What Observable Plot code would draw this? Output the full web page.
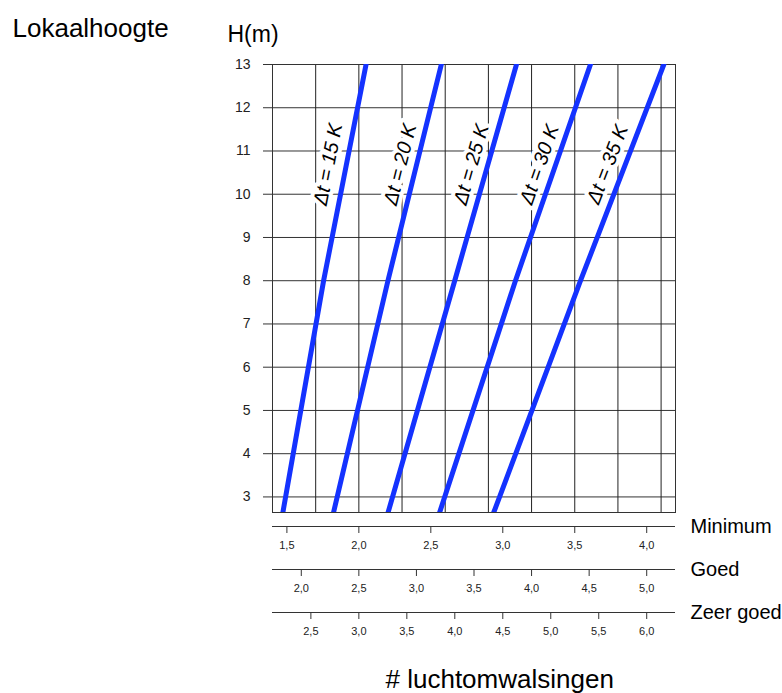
<!DOCTYPE html>
<html><head><meta charset="utf-8">
<script src="https://cdn.jsdelivr.net/npm/d3@7"></script>
<script src="https://cdn.jsdelivr.net/npm/@observablehq/plot@0.6"></script>
<style>
body{margin:0;background:#fff;}
#chart svg{display:block;}
</style>
</head><body><div id="chart"></div>
<script>
// Heights (m) at which each curve is read
const heights = [2.64, 8, 13];
// "Minimum" air changes per hour for each Δt curve, one value per height
const dt15 = [1.472, 1.755, 2.050];
const dt20 = [1.824, 2.202, 2.573];
const dt25 = [2.203, 2.666, 3.095];
const dt30 = [2.561, 3.088, 3.609];
const dt35 = [2.937, 3.540, 4.119];
const seriesNames = ["Δt = 15 K", "Δt = 20 K", "Δt = 25 K", "Δt = 30 K", "Δt = 35 K"];
const seriesValues = [dt15, dt20, dt25, dt30, dt35];
// label anchor positions (Minimum units, height) and angles
const labelX = [1.787, 2.288, 2.782, 3.255, 3.728];
const labelH = [10.69, 10.69, 10.69, 10.69, 10.69];
const labelAngle = [-79, -76, -74, -71, -69];
// grid + axes
const xDomain = [1.4, 4.2];
const yDomain = [2.64, 13];
const gridX = [1.7, 2.0, 2.3, 2.6, 2.9, 3.2, 3.5, 3.8, 4.1];
const heightTicks = [3, 4, 5, 6, 7, 8, 9, 10, 11, 12, 13];
const minimumTicks = [1.5, 2.0, 2.5, 3.0, 3.5, 4.0];
const goedTicks = [2.0, 2.5, 3.0, 3.5, 4.0, 4.5, 5.0];
const zeerGoedTicks = [2.5, 3.0, 3.5, 4.0, 4.5, 5.0, 5.5, 6.0];
const scaleNames = ["Minimum", "Goed", "Zeer goed"];
const scaleFactors = [1, 1.25, 1.5];
const scaleTicks = [minimumTicks, goedTicks, zeerGoedTicks];

const rows = seriesNames.flatMap((s, i) => heights.map((h, j) => ({series: s, h, x: seriesValues[i][j]})));
const labels = seriesNames.map((s, i) => ({text: s, x: labelX[i], h: labelH[i], a: labelAngle[i]}));

const fmt = v => v.toFixed(1).replace(".", ",");
const axisOffsets = [14, 57, 100];

const scaleMarks = scaleNames.flatMap((name, i) => [
  Plot.ruleY([yDomain[0]], {dy: axisOffsets[i], stroke: "#333", strokeWidth: 1}),
  Plot.axisX({
    ticks: scaleTicks[i].map(v => v / scaleFactors[i]),
    tickFormat: d => fmt(d * scaleFactors[i]),
    anchor: "bottom", dy: axisOffsets[i], tickSize: 7, tickPadding: 8,
    fontSize: 11, label: null, stroke: "#333", fill: "#222"
  }),
  Plot.text([name], {frameAnchor: "bottom-right", dx: 15, dy: axisOffsets[i], textAnchor: "start", lineAnchor: "middle", fontSize: 20, fill: "#000"})
]);

const chart = Plot.plot({
  width: 782,
  height: 693,
  marginLeft: 272,
  marginRight: 107,
  marginTop: 64,
  marginBottom: 181,
  style: {fontFamily: "'Liberation Sans', Arial, sans-serif", color: "#222", background: "#fff"},
  x: {domain: xDomain},
  y: {domain: yDomain},
  marks: [
    Plot.gridY(heightTicks, {stroke: "#333", strokeOpacity: 1, strokeWidth: 1}),
    Plot.ruleX(gridX, {stroke: "#222", strokeWidth: 1}),
    Plot.axisY({ticks: heightTicks, tickSize: 9, tickPadding: 13, fontSize: 14, label: null, stroke: "#333", fill: "#222"}),
    Plot.frame({stroke: "#333", strokeWidth: 1}),
    Plot.text(labels, {x: "x", y: "h", text: "text", rotate: "a", fontSize: 20, fontStyle: "italic", fill: "#000", stroke: "white", strokeWidth: 8}),
    Plot.line(rows, {x: "x", y: "h", z: "series", stroke: "#1432ff", strokeWidth: 5, clip: true}),
    ...scaleMarks,
    Plot.text(["Lokaalhoogte"], {frameAnchor: "top-left", dx: -260, dy: -28, textAnchor: "start", lineAnchor: "bottom", fontSize: 26, fill: "#000"}),
    Plot.text(["H(m)"], {frameAnchor: "top-left", dx: -45, dy: -23, textAnchor: "start", lineAnchor: "bottom", fontSize: 23, fill: "#000"}),
    Plot.text(["# luchtomwalsingen"], {frameAnchor: "bottom-left", dx: 113, dy: 175, textAnchor: "start", lineAnchor: "bottom", fontSize: 26, fill: "#000"})
  ]
});
document.getElementById("chart").appendChild(chart);
</script>
</body></html>
